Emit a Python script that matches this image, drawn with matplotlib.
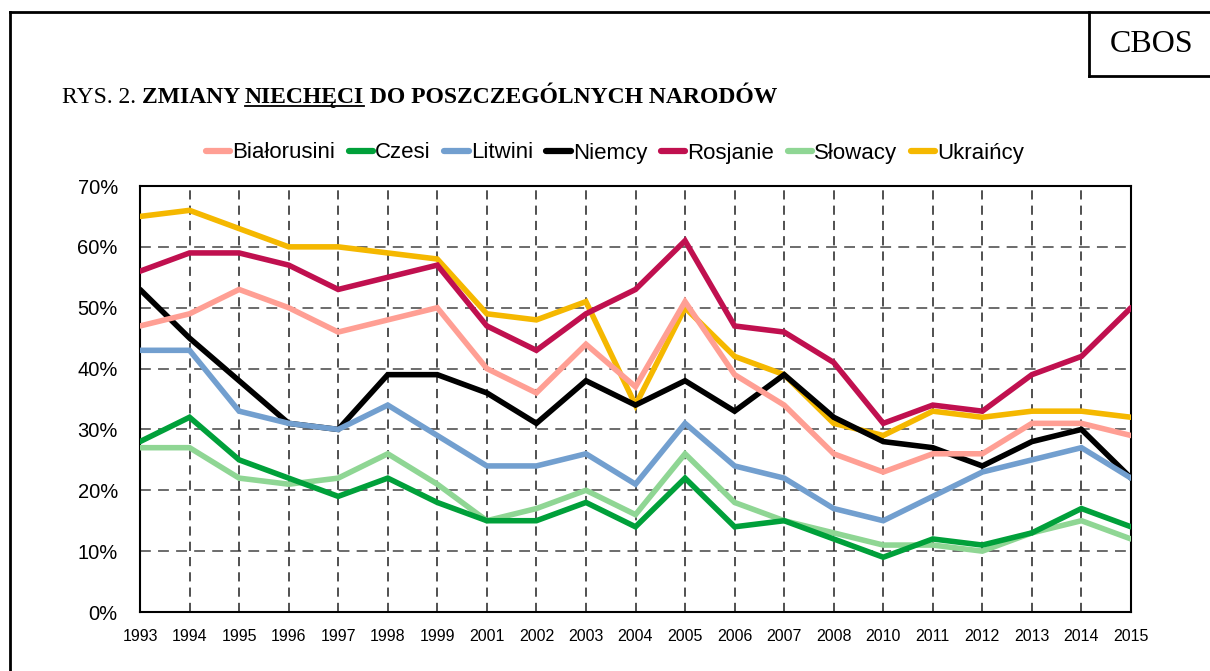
import matplotlib
matplotlib.use('Agg')
import matplotlib.pyplot as plt
from matplotlib.lines import Line2D

years = ['1993', '1994', '1995', '1996', '1997', '1998', '1999', '2001', '2002', '2003', '2004',
         '2005', '2006', '2007', '2008', '2010', '2011', '2012', '2013', '2014', '2015']

bialorusini = [47, 49, 53, 50, 46, 48, 50, 40, 36, 44, 37, 51, 39, 34, 26, 23, 26, 26, 31, 31, 29]
czesi = [28, 32, 25, 22, 19, 22, 18, 15, 15, 18, 14, 22, 14, 15, 12, 9, 12, 11, 13, 17, 14]
litwini = [43, 43, 33, 31, 30, 34, 29, 24, 24, 26, 21, 31, 24, 22, 17, 15, 19, 23, 25, 27, 22]
niemcy = [53, 45, 38, 31, 30, 39, 39, 36, 31, 38, 34, 38, 33, 39, 32, 28, 27, 24, 28, 30, 22]
rosjanie = [56, 59, 59, 57, 53, 55, 57, 47, 43, 49, 53, 61, 47, 46, 41, 31, 34, 33, 39, 42, 50]
slowacy = [27, 27, 22, 21, 22, 26, 21, 15, 17, 20, 16, 26, 18, 15, 13, 11, 11, 10, 13, 15, 12]
ukraincy = [65, 66, 63, 60, 60, 59, 58, 49, 48, 51, 34, 50, 42, 39, 31, 29, 33, 32, 33, 33, 32]

series = [
    ('Białorusini', bialorusini, '#FF9F94'),
    ('Czesi', czesi, '#00A03A'),
    ('Litwini', litwini, '#729FCF'),
    ('Niemcy', niemcy, '#000000'),
    ('Rosjanie', rosjanie, '#C0104F'),
    ('Słowacy', slowacy, '#8FD694'),
    ('Ukraińcy', ukraincy, '#F5B800'),
]

W, H = 1210, 671
fig = plt.figure(figsize=(W / 100, H / 100), dpi=100)
ax = fig.add_axes([140 / W, 1 - 612 / H, (1131 - 140) / W, (612 - 186) / H])

x = list(range(len(years)))
for i, (name, vals, col) in enumerate(series):
    # first series ends up on top, like in the original
    ax.plot(x, vals, color=col, lw=4, label=name, zorder=10 - i,
            solid_capstyle='round', solid_joinstyle='miter')

ax.set_xlim(0, len(years) - 1)
ax.set_ylim(0, 70)
ax.set_xticks(x)
ax.set_xticklabels(years, fontsize=11.5, family='Liberation Sans')
ax.set_yticks(range(0, 71, 10))
ax.set_yticklabels([f'{v}%' for v in range(0, 71, 10)], fontsize=14.5, family='Liberation Sans')
ax.tick_params(length=0)
ax.tick_params(axis='y', pad=16)
ax.tick_params(axis='x', pad=12)

for v in range(10, 70, 10):
    ax.axhline(v, color='#606060', lw=1.3, ls=(0, (6, 4)), zorder=1)
for xi in x[1:-1]:
    ax.axvline(xi, color='#202020', lw=1.1, ls=(0, (6, 4)), zorder=1)
for s in ax.spines.values():
    s.set_linewidth(1.5)
    s.set_color('black')

leg_handles = [Line2D([0], [0], color=c, lw=4.5, solid_capstyle='round') for _, _, c in series]
fig.legend(leg_handles, [s[0] for s in series], loc='center', bbox_to_anchor=(615 / W, 1 - 153 / H),
           ncol=7, frameon=False, prop={'family': 'Liberation Sans', 'size': 16},
           handlelength=1.1, handletextpad=0.1, columnspacing=0.6)

# outer frame and CBOS box
fig.add_artist(Line2D([10 / W, 10 / W], [0, 1 - 12 / H], color='black', lw=2, transform=fig.transFigure))
fig.add_artist(Line2D([10 / W, 1], [1 - 12 / H, 1 - 12 / H], color='black', lw=2, transform=fig.transFigure))
fig.add_artist(Line2D([1089 / W, 1089 / W], [1 - 12 / H, 1 - 76 / H], color='black', lw=2, transform=fig.transFigure))
fig.add_artist(Line2D([1089 / W, 1], [1 - 76 / H, 1 - 76 / H], color='black', lw=2, transform=fig.transFigure))
fig.text(1152 / W, 1 - 44 / H, 'CBOS', ha='center', va='center', fontsize=23, family='Liberation Serif')

# title built from pieces
renderer = fig.canvas.get_renderer()
parts = [('RYS. 2. ', 'normal', False), ('ZMIANY ', 'bold', False), ('NIECHĘCI', 'bold', True),
         (' DO POSZCZEGÓLNYCH NARODÓW', 'bold', False)]
px = 62
base_y = 1 - 103 / H
for txt, wt, ul in parts:
    t = fig.text(px / W, base_y, txt, fontsize=17, weight=wt, family='Liberation Serif',
                 ha='left', va='baseline')
    bb = t.get_window_extent(renderer)
    if ul:
        fig.add_artist(Line2D([px / W, (px + bb.width) / W], [base_y - 3 / H, base_y - 3 / H],
                              color='black', lw=1.3, transform=fig.transFigure))
    px += bb.width

fig.savefig('out.png', dpi=100)
